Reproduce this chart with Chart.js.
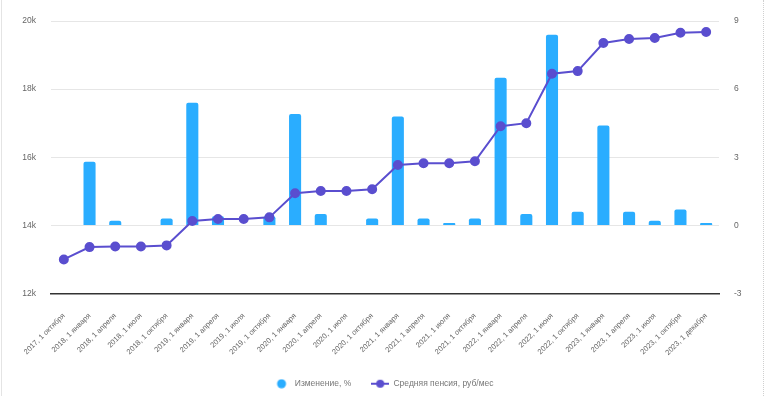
<!DOCTYPE html>
<html lang="ru">
<head>
<meta charset="UTF-8">
<title>Средняя пенсия</title>
<script src="https://cdn.jsdelivr.net/npm/chart.js"></script>
<style>
    html, body {
        margin: 0;
        padding: 0;
        background: #fff;
    }
    .chart-box {
        position: relative;
        width: 766px;
        height: 396px;
    }
    .chart-box::before {
        content: '';
        position: absolute;
        left: 1px;
        top: 0;
        bottom: 0;
        border-left: 1px solid #e4e4e4;
    }
    .chart-box::after {
        content: '';
        position: absolute;
        left: 763px;
        top: 0;
        bottom: 0;
        border-left: 1px dotted #d0d0d0;
    }
</style>
</head>
<body>
<div class="chart-box">
    <canvas id="pensionChart"></canvas>
</div>
<script>
    // periods
    const periods = [
        '2017, 1 октября', '2018, 1 января', '2018, 1 апреля', '2018, 1 июля',
        '2018, 1 октября', '2019, 1 января', '2019, 1 апреля', '2019, 1 июля',
        '2019, 1 октября', '2020, 1 января', '2020, 1 апреля', '2020, 1 июля',
        '2020, 1 октября', '2021, 1 января', '2021, 1 апреля', '2021, 1 июля',
        '2021, 1 октября', '2022, 1 января', '2022, 1 апреля', '2022, 1 июня',
        '2022, 1 октября', '2023, 1 января', '2023, 1 апреля', '2023, 1 июля',
        '2023, 1 октября', '2023, 1 декабря'
    ];

    // change, %
    const changePct = [
        0, 2.8, 0.2, 0, 0.3, 5.4, 0.4, 0, 0.4, 4.9, 0.5, 0, 0.3,
        4.8, 0.3, 0.1, 0.3, 6.5, 0.5, 8.4, 0.6, 4.4, 0.6, 0.2, 0.7, 0.1
    ];

    // average pension, rub/month
    const avgPension = [
        13000, 13362, 13382, 13380, 13412, 14126, 14185, 14185, 14235,
        14941, 15010, 15010, 15059, 15774, 15824, 15824, 15882, 16912,
        17000, 18450, 18529, 19353, 19470, 19500, 19656, 19676
    ];

    const leftTicks = [12000, 14000, 16000, 18000, 20000];
    const rightTicks = [-3, 0, 3, 6, 9];

    const barColor = '#2aadff';
    const lineColor = '#5a4ecf';

    // legend markers
    function makeMarker(withLine, color) {
        const m = document.createElement('canvas');
        m.width = 18;
        m.height = 10;
        const c = m.getContext('2d');
        c.fillStyle = color;
        c.strokeStyle = color;
        if (withLine) {
            c.lineWidth = 2;
            c.beginPath();
            c.moveTo(0, 5);
            c.lineTo(18, 5);
            c.stroke();
        }
        c.beginPath();
        c.arc(9, 5, withLine ? 4 : 4.5, 0, Math.PI * 2);
        c.fill();
        return m;
    }
    const barMarker = makeMarker(false, barColor);
    const lineMarker = makeMarker(true, lineColor);

    Chart.defaults.font.family = "'Liberation Sans', Arial, sans-serif";
    Chart.defaults.color = '#666';

    new Chart(document.getElementById('pensionChart'), {
        type: 'bar',
        data: {
            labels: periods,
            datasets: [{
                type: 'bar',
                label: 'Изменение, %',
                data: changePct,
                yAxisID: 'yRight',
                backgroundColor: barColor,
                borderRadius: 2,
                borderSkipped: 'start',
                barPercentage: 0.47,
                categoryPercentage: 1,
                order: 2
            }, {
                type: 'line',
                label: 'Средняя пенсия, руб/мес',
                data: avgPension,
                yAxisID: 'yLeft',
                borderColor: lineColor,
                backgroundColor: lineColor,
                borderWidth: 2,
                pointRadius: 4,
                pointBackgroundColor: lineColor,
                pointBorderColor: lineColor,
                tension: 0,
                order: 1
            }]
        },
        options: {
            responsive: true,
            maintainAspectRatio: false,
            animation: false,
            layout: {
                padding: { top: 21, bottom: -2 }
            },
            plugins: {
                tooltip: { enabled: false },
                legend: {
                    position: 'bottom',
                    labels: {
                        usePointStyle: true,
                        pointStyleWidth: 18,
                        boxHeight: 10,
                        padding: 20,
                        font: { size: 8.5 },
                        color: '#777',
                        sort: (a, b) => a.datasetIndex - b.datasetIndex,
                        generateLabels(chart) {
                            const items = Chart.defaults.plugins.legend.labels.generateLabels(chart);
                            items.forEach(it => {
                                it.pointStyle = it.datasetIndex === 0 ? barMarker : lineMarker;
                            });
                            return items;
                        }
                    }
                }
            },
            scales: {
                x: {
                    afterFit(axis) { axis.height = 66; },
                    grid: { display: false },
                    border: { display: true, color: '#333', width: 1.5 },
                    ticks: {
                        autoSkip: false,
                        maxRotation: 45,
                        minRotation: 45,
                        padding: 10,
                        font: { size: 7.5 },
                        color: '#666'
                    }
                },
                yLeft: {
                    position: 'left',
                    min: 12000,
                    max: 20000,
                    afterBuildTicks(axis) {
                        axis.ticks = leftTicks.map(v => ({ value: v }));
                    },
                    afterFit(axis) { axis.width = 51; },
                    grid: { color: '#e6e6e6', drawTicks: false },
                    border: { display: false },
                    ticks: {
                        padding: 15,
                        font: { size: 8.5 },
                        color: '#666',
                        callback: v => (v / 1000) + 'k'
                    }
                },
                yRight: {
                    position: 'right',
                    min: -3,
                    max: 9,
                    afterBuildTicks(axis) {
                        axis.ticks = rightTicks.map(v => ({ value: v }));
                    },
                    afterFit(axis) { axis.width = 47; },
                    grid: { drawOnChartArea: false, drawTicks: false },
                    border: { display: false },
                    ticks: {
                        padding: 15,
                        font: { size: 8.5 },
                        color: '#666'
                    }
                }
            }
        }
    });
</script>
</body>
</html>
